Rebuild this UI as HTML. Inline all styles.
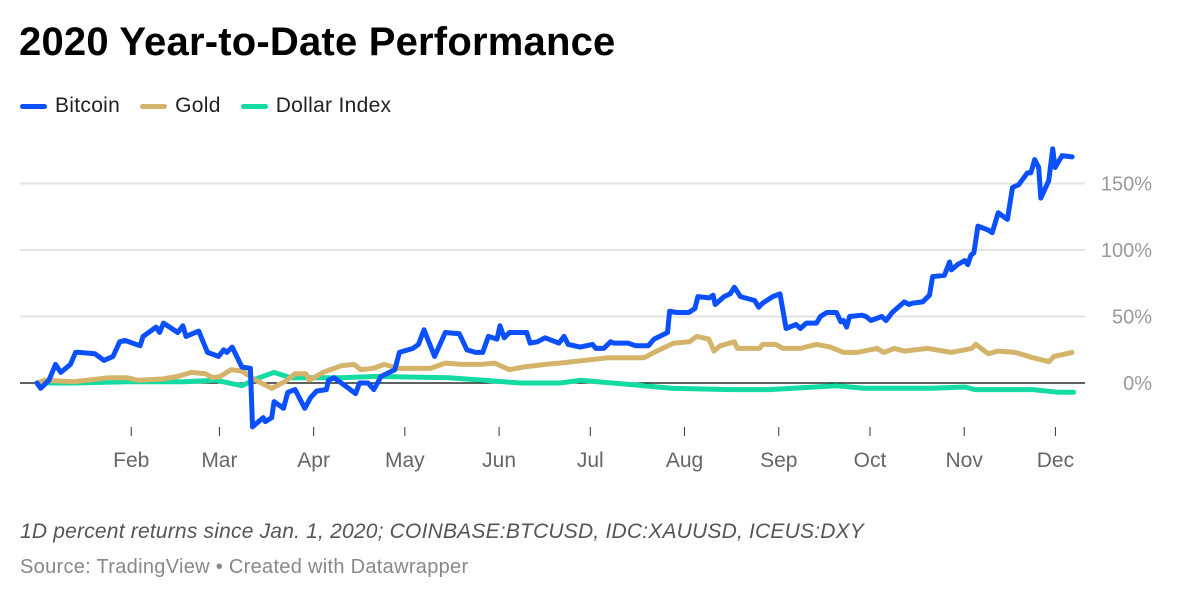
<!DOCTYPE html>
<html><head><meta charset="utf-8">
<style>
body{margin:0;background:#fff;font-family:"Liberation Sans",sans-serif;}
#wrap{position:relative;width:1180px;height:609px;overflow:hidden;}
.title{position:absolute;left:19px;top:20px;font-size:40px;font-weight:bold;color:#000;letter-spacing:0.2px}
.legend{position:absolute;top:94px;left:20px;font-size:21px;color:#222;display:flex;gap:0;letter-spacing:0.3px}
.leg{display:flex;align-items:center;margin-right:20px}
.sw{width:27px;height:5px;border-radius:3px;margin-right:8px}
.note{position:absolute;left:20px;top:520px;font-size:21px;font-style:italic;color:#555;letter-spacing:0.2px}
.src{position:absolute;left:20px;top:556px;font-size:20px;color:#888;letter-spacing:0.3px}
</style></head><body>
<div id="wrap">
<div class="title">2020 Year-to-Date Performance</div>
<div class="legend">
<div class="leg"><span class="sw" style="background:#0a50ff"></span>Bitcoin</div>
<div class="leg"><span class="sw" style="background:#d4b46a"></span>Gold</div>
<div class="leg"><span class="sw" style="background:#13dba2"></span>Dollar Index</div>
</div>
<svg id="plot" width="1180" height="609" style="position:absolute;left:0;top:0"></svg>
<div class="note">1D percent returns since Jan. 1, 2020; COINBASE:BTCUSD, IDC:XAUUSD, ICEUS:DXY</div>
<div class="src">Source: TradingView • Created with Datawrapper</div>
</div>
<script>
const btcDays=[0,1.2,3.9,6.1,7.8,11,12.7,13.8,19,22,25,27.2,28.9,33.9,34.9,39.2,40.3,41.6,46.3,48,49,53.2,56.1,59.7,61.4,62.4,64.2,67.4,70.2,70.9,74.4,75.1,77.2,78,81.1,82.5,84.9,88.1,90,92,95.2,95.9,97.7,101.9,104.8,106.1,108.9,110.8,113.2,117.7,119.2,123.7,125.5,127.3,130.8,134.3,138.9,141.4,144.2,146.6,148.5,151.3,152.3,153.7,155.4,161.1,162.2,164.6,167.1,171.7,173.4,174.7,178.7,182.7,183.8,186.4,188.7,189.7,194.4,197,201.1,203,207.4,208.1,210.4,214.4,216.4,217.4,221.1,222.4,223.1,226,228,229.4,231.4,236.1,237.4,238.7,242,244.4,246.4,249.7,251.1,253.1,256.4,257.7,259.8,263,264.4,265.3,266.3,267.3,271.4,272.7,274.3,277.9,279.3,281.3,285.3,286.9,287.9,291.3,293.6,294.6,298.5,300.2,300.8,302.8,305.2,306.2,307.2,308.2,309.5,312.9,314.2,316.2,319.2,320.9,322.9,325.8,326.9,328.2,329.5,330.2,332.8,334.1,334.9,337.2,340.5];
const btcVals=[0,-4,2,14,8,14,23,23,22,17,20,31,32,28,35,42,38,45,38,43,35,39,23,20,25,23,27,12,11,-33,-26,-29,-26,-14,-19,-7,-5,-19,-11,-6,-5,2,4,-3,-8,0,0,-5,5,10,23,26,29,40,20,38,37,25,23,23,35,33,43,34,38,38,30,31,34,30,35,29,27,29,26,26,31,30,30,28,28,33,38,54,53,53,56,65,64,66,59,65,67,72,65,62,57,60,65,67,41,44,41,45,45,50,53,53,46,47,42,50,51,50,47,50,47,53,61,59,60,61,66,80,81,91,85,89,92,89,96,98,118,115,113,128,123,147,149,158,158,168,162,139,152,176,162,171,170];
const goldDays=[0,2.5,12.2,23.7,29.6,33.2,41.3,46.3,50.8,55.4,57.8,60.3,63.8,67.4,72,77.2,81.5,84.9,88.5,89.5,94.1,97.7,100.1,104.3,106.5,110.6,114.2,118.8,129.4,134.3,140,146,150.5,155.4,160,167.1,172,188,199.7,203,209.4,214.6,217,221,222.7,224.7,229.4,230.4,237.7,238.7,243,245.4,251,256.4,261,265.3,269.7,276.3,278.6,282,285.3,292.9,300.8,307.5,308.8,312.9,316.2,321.8,327.6,332.9,334.5,340.5];
const goldVals=[0,2,1,4,4,2,3,5,8,7,4,5,10,9,2,-4,1,7,7,2,8,11,13,14,10,11,14,11,11,15,14,14,15,10,12,14,15,19,19,23,30,31,35,33,24,28,31,26,26,29,29,26,26,29,27,23,23,26,23,26,24,26,23,26,29,22,24,23,19,16,20,23];
const dxyDays=[0,12.2,29.6,48.3,58.9,67.4,72,78,83.5,100.1,111.7,135.4,147,159,172,178.7,199.7,208.7,227.8,241,263,272,294.3,305.2,308.5,327.6,336.1,341];
const dxyVals=[0,0,1,1,2,-2,3,8,4,4,5,4,2,0,0,2,-2,-4,-5,-5,-2,-4,-4,-3,-5,-5,-7,-7];
const yTicks=[0,50,100,150];
const yTickLabels=["0%","50%","100%","150%"];
const monthDays=[31,60,91,121,152,182,213,244,274,305,335];
const monthLabels=["Feb","Mar","Apr","May","Jun","Jul","Aug","Sep","Oct","Nov","Dec"];

const NS="http://www.w3.org/2000/svg";
const svg=document.getElementById('plot');
function xs(d){return 37+3.04*d;}
function ys(v){return 383-1.33*v;}
function mk(tag,attrs){const e=document.createElementNS(NS,tag);for(const k in attrs)e.setAttribute(k,attrs[k]);svg.appendChild(e);return e;}

yTicks.forEach((t,i)=>{
  const l=mk('line',{x1:20,x2:1085,y1:ys(t),y2:ys(t),stroke:t===0?'#000':'#e3e3e3','stroke-width':t===0?1.3:2});
  
  
  const tx=mk('text',{x:1152,y:ys(t)+7,'text-anchor':'end','font-size':20,fill:'#9a9a9a','font-family':'Liberation Sans, sans-serif'});
  tx.textContent=yTickLabels[i];
  
  
});
monthDays.forEach((d,i)=>{
  const tk=mk('line',{x1:xs(d),x2:xs(d),y1:427,y2:436,stroke:'#333','stroke-width':1});
  
  
  const tx=mk('text',{x:xs(d),y:467,'text-anchor':'middle','font-size':21,fill:'#666','font-family':'Liberation Sans, sans-serif'});
  tx.textContent=monthLabels[i];
  
  
});
function line(days,vals,color,name){
  const p=days.map((d,i)=>(i?'L':'M')+xs(d).toFixed(1)+','+ys(vals[i]).toFixed(1)).join(' ');
  const e=mk('path',{d:p,fill:'none',stroke:color,'stroke-width':5,'stroke-linejoin':'round','stroke-linecap':'round'});
  
  
}
line(dxyDays,dxyVals,'#13dba2','dollar-index-line');
line(goldDays,goldVals,'#d4b46a','gold-line');
line(btcDays,btcVals,'#0a50ff','bitcoin-line');
</script>
</body></html>
